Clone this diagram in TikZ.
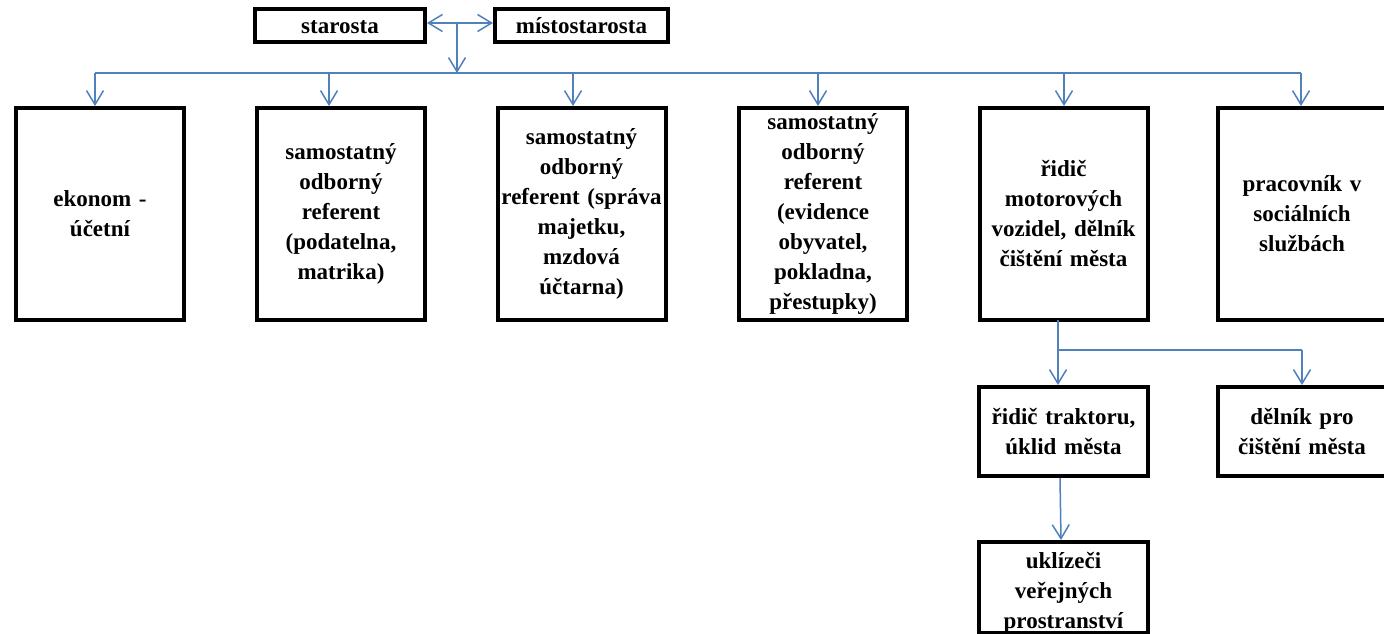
\documentclass[tikz,border=0pt]{standalone}
\usepackage{fontspec}
\setmainfont{Liberation Serif}
\usetikzlibrary{arrows.meta}
\definecolor{linkblue}{RGB}{79,129,189}
\tikzset{
  box/.style={draw=black, line width=4pt, inner sep=0pt, align=center,
    font=\bfseries\fontsize{23}{30}\selectfont},
  topbox/.style={box, minimum height=33pt, text height=17pt, text depth=0pt},
  rowbox/.style={box, minimum width=168pt, minimum height=212pt, text width=164pt},
  smallbox/.style={box, minimum width=169pt, minimum height=89pt, text width=165pt},
  link/.style={draw=linkblue, line width=1.5pt},
  arr/.style={link, -{Straight Barb[length=14pt,width=17pt,line width=1.5pt]}},
  darr/.style={link, {Straight Barb[length=14pt,width=17pt,line width=1.5pt]}-{Straight Barb[length=14pt,width=17pt,line width=1.5pt]}}
}
\begin{document}
\begin{tikzpicture}[x=1pt,y=-1pt]
\useasboundingbox (0,0) rectangle (1384,634);
\fill[white] (0,0) rectangle (1384,634);
% top boxes
\node[topbox, minimum width=170pt] (st) at (340,25.5) {starosta};
\node[topbox, minimum width=173pt] (mi) at (581.5,25.5) {místostarosta};
% row boxes
\node[rowbox] (b1) at (100,214) {ekonom -\\účetní};
\node[rowbox] (b2) at (341,214) {samostatný\\odborný\\referent\\(podatelna,\\matrika)};
\node[rowbox] (b3) at (581.5,214) {samostatný\\odborný\\referent (správa\\majetku,\\mzdová\\účtarna)};
\node[rowbox] (b4) at (823,214) {samostatný\\odborný\\referent\\(evidence\\obyvatel,\\pokladna,\\přestupky)};
\node[rowbox] (b5) at (1063.5,214) {řidič\\motorových\\vozidel, dělník\\čištění města};
\node[rowbox] (b6) at (1302,214) {pracovník v\\sociálních\\službách};
% lower boxes
\node[smallbox] (b7) at (1063.5,431.5) {řidič traktoru,\\úklid města};
\node[smallbox] (b8) at (1302,431.5) {dělník pro\\čištění města};
\node[smallbox, text height=26pt] (b9) at (1063.5,587.5) {uklízeči\\veřejných\\prostranství};
% top connectors
\draw[darr] (st.east |- 0,23) -- (mi.west |- 0,23);
\coordinate (j) at (457,23);
\coordinate (jb) at (457,73);
\draw[arr] (j) -- (jb);
% bus
\coordinate (bl) at (95,73);
\coordinate (br) at (1301,73);
\draw[link] (bl) -- (br);
\coordinate (t1) at (95,73);
\coordinate (t2) at (329,73);
\coordinate (t3) at (573,73);
\coordinate (t4) at (818,73);
\coordinate (t5) at (1064,73);
\coordinate (t6) at (1301,73);
\draw[arr] (t1) -- (t1 |- b1.north);
\draw[arr] (t2) -- (t2 |- b2.north);
\draw[arr] (t3) -- (t3 |- b3.north);
\draw[arr] (t4) -- (t4 |- b4.north);
\draw[arr] (t5) -- (t5 |- b5.north);
\draw[arr] (t6) -- (t6 |- b6.north);
% lower connectors
\coordinate (s5) at (1058,320);
\coordinate (k) at (1058,350);
\coordinate (k8) at (1302,350);
\draw[link] (s5) -- (k) -- (k8);
\draw[arr] (k) -- (k |- b7.north);
\draw[arr] (k8) -- (k8 |- b8.north);
\coordinate (s7) at (1060,478);
\draw[arr] (s7) -- (1061,0 |- b9.north);
\end{tikzpicture}
\end{document}
